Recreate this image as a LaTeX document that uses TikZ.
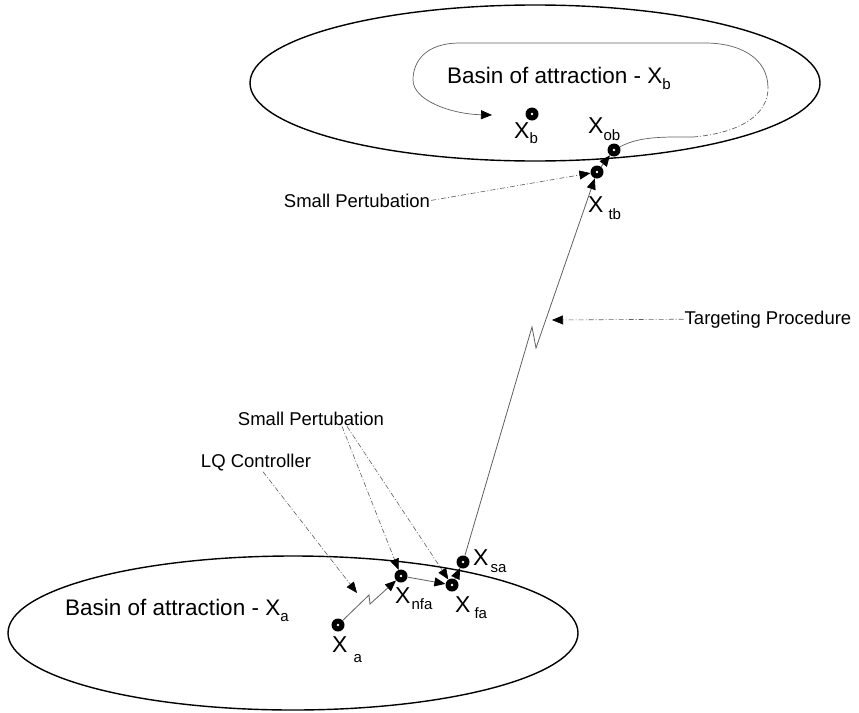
\documentclass[tikz,border=0pt]{standalone}
\usepackage{fontspec}
\setmainfont{Liberation Sans}
\usepackage{xcolor}
\usepackage{tikz}
\usetikzlibrary{arrows.meta,calc}
% X with a lowered subscript: #1 gap, #2 drop, #3 subscript
\newcommand{\Xsub}[3]{X\hspace{#1}\raisebox{-#2}{\fontsize{15}{15}\selectfont #3}}
\definecolor{clrL}{RGB}{95,95,95}
\tikzset{
  basin/.style={draw=black,line width=1.4pt},
  dotnode/.style={circle,fill=black,minimum size=13pt,inner sep=0pt,
    path picture={\fill[white] (path picture bounding box.center) circle (1.3pt);}},
  xlab/.style={font=\fontsize{23}{23}\selectfont,anchor=base west,inner sep=0pt},
  basinlbl/.style={font=\fontsize{22.5}{22.5}\selectfont,anchor=base west,inner sep=0pt},
  notelbl/.style={font=\fontsize{18.5}{18.5}\selectfont,anchor=base,inner sep=1pt},
  arrow/.style={-{Triangle[length=11pt,width=9pt,color=black]},line width=0.8pt,color=clrL},
  trail/.style={line width=0.7pt,color=clrL},
  dashdot/.style={dash pattern=on 5pt off 2pt on 1pt off 2pt},
  pointer/.style={arrow,dashdot,line width=0.6pt}
}

\begin{document}
\begin{tikzpicture}[x=1pt,y=-1pt]
  \useasboundingbox (0,0) rectangle (859,712);
  % basins
  \draw[basin] (535,83) ellipse [x radius=285, y radius=78];
  \draw[basin] (293,633) ellipse [x radius=285, y radius=77];
  \node[basinlbl] (bb) at (447,83) {Basin of attraction - \Xsub{0pt}{6pt}{b}};
  \node[basinlbl] (ba) at (65,615) {Basin of attraction - \Xsub{0pt}{6pt}{a}};
  % states
  \node[dotnode] (xb) at (532,114) {};
  \node[dotnode] (xob) at (614,150) {};
  \node[dotnode] (xtb) at (597,172) {};
  \node[dotnode] (xa) at (338,625) {};
  \node[dotnode] (xnfa) at (401,576) {};
  \node[dotnode] (xfa) at (452,585) {};
  \node[dotnode] (xsa) at (463,562) {};
  \node[xlab] (lxb) at (514,138) {\Xsub{0pt}{5pt}{b}};
  \node[xlab] (lxob) at (588,133) {\Xsub{0pt}{7pt}{ob}};
  \node[xlab] (lxtb) at (588,212) {\Xsub{5pt}{7pt}{tb}};
  \node[xlab] (lxa) at (332,652) {\Xsub{6pt}{10pt}{a}};
  \node[xlab] (lxnfa) at (395,603) {\Xsub{1pt}{6pt}{nfa}};
  \node[xlab] (lxfa) at (455,612) {\Xsub{4pt}{6pt}{fa}};
  \node[xlab] (lxsa) at (473,565) {\Xsub{2pt}{7pt}{sa}};
  % notes
  \node[notelbl] (sptop) at (357,207) {Small Pertubation};
  \node[notelbl] (spbot) at (311,425) {Small Pertubation};
  \node[notelbl] (lq) at (256,467) {LQ Controller};
  \node[notelbl] (tproc) at (768,324) {Targeting Procedure};
  \coordinate (zza) at (369,595);
  \coordinate (zzb) at (370,604);
  \coordinate (zzc) at (532,327);
  \coordinate (zzd) at (536,348);
  \coordinate (tp) at (552,320);
  \coordinate (lqtip) at (357,593);
  \coordinate (loopend) at (492,115);
  % trajectory
  \draw[arrow] (xa) -- (zza) -- (zzb) -- (xnfa);
  \draw[arrow] (xnfa) -- (xfa);
  \draw[arrow] (xfa) -- (xsa);
  \draw[arrow] (xsa) -- (zzc) -- (zzd) -- (xtb);
  \draw[arrow] (xtb) -- (xob);
  \draw[trail] (xob) .. controls (640,136) and (665,137) .. (693,137);
  \draw[trail,dashdot] (693,137) .. controls (740,133) and (768,115) .. (768,88);
  \draw[trail,-{Triangle[length=11pt,width=9pt,color=black]}] (768,88)
    .. controls (768,58) and (740,43) .. (705,43) -- (460,43)
    .. controls (425,43) and (413,62) .. (413,80)
    .. controls (413,100) and (450,114) .. (loopend);
  % pointers
  \draw[pointer] (sptop.east) -- (xtb);
  \draw[pointer] (tproc.west) -- (tp);
  \draw[pointer] ($(lq.south)+(7,0)$) -- (lqtip);
  \draw[pointer] ($(spbot.south)+(31,0)$) -- (xnfa);
  \draw[pointer] ($(spbot.south)+(36,0)$) -- (xfa);
\end{tikzpicture}
\end{document}
